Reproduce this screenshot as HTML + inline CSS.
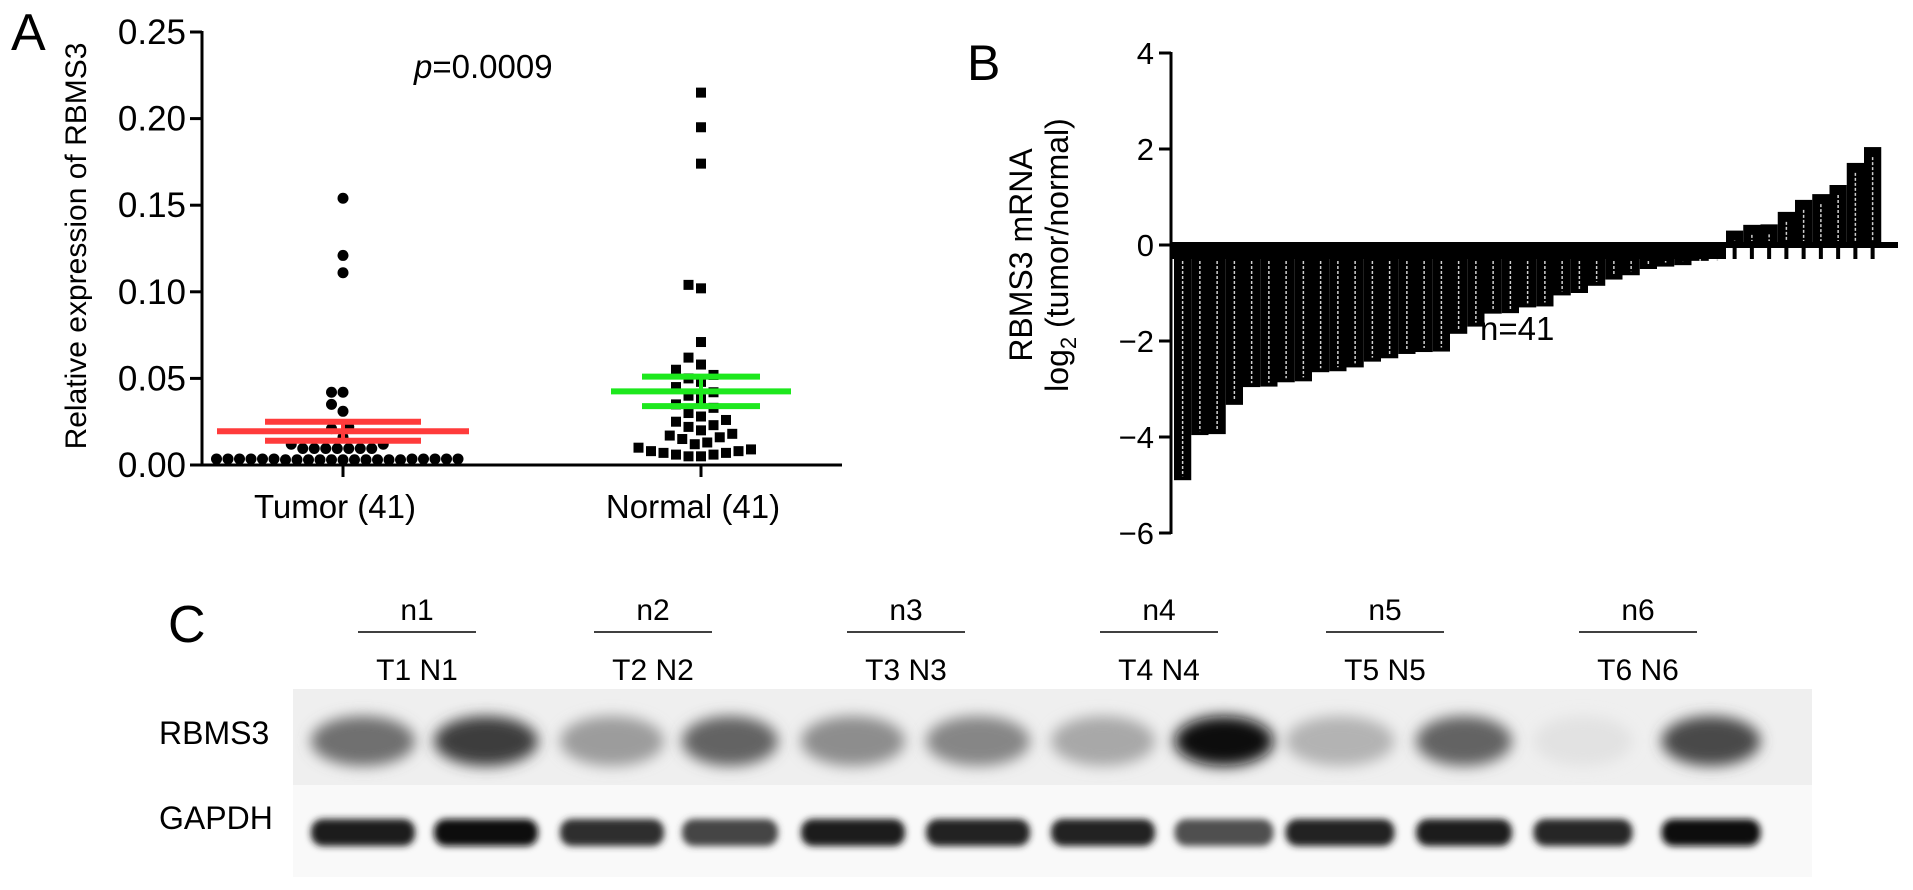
<!DOCTYPE html>
<html><head><meta charset="utf-8"><style>
html,body{margin:0;padding:0;background:#fff;}
svg{display:block;font-family:"Liberation Sans",Arial,sans-serif;}
</style></head><body>
<svg id="fig" width="1913" height="890" viewBox="0 0 1913 890" xmlns="http://www.w3.org/2000/svg">
<defs>
<filter id="blur6" x="-30%" y="-80%" width="160%" height="260%"><feGaussianBlur stdDeviation="7"/></filter>
<filter id="blur3" x="-30%" y="-80%" width="160%" height="260%"><feGaussianBlur stdDeviation="3.5"/></filter>
</defs>
<g id="panelA"></g>
<g id="panelB"></g>
<g id="panelC"></g>
</svg>
<script>
// ---------- Panel A data ----------
const groupsA = ["Tumor (41)", "Normal (41)"];
const tumorValues = [0.154,0.121,0.111,0.042,0.042,0.035,0.031,0.022,0.021,0.016,0.012,0.012,
 0.0095,0.0095,0.0095,0.0095,0.0095,0.0095,0.0095,
 0.003,0.0035,0.003,0.0035,0.003,0.0035,0.003,0.0035,0.003,0.0035,0.003,0.0035,0.003,0.0035,0.003,0.0035,0.003,0.0035,0.003,0.0035,0.003,0.0035];
const normalValues = [0.215,0.195,0.174,0.104,0.102,0.071,0.062,0.058,0.055,0.052,0.050,0.048,0.045,0.042,0.040,0.038,0.035,0.033,0.030,0.028,0.026,0.025,0.023,0.022,0.020,0.018,0.017,0.016,0.015,0.013,0.012,0.010,0.009,0.008,0.008,0.007,0.007,0.006,0.006,0.005,0.005];
const meanA = [0.0195, 0.0425];
const semTopA = [0.025, 0.051];
const semBotA = [0.014, 0.034];
const ticksA = [0, 0.05, 0.10, 0.15, 0.20, 0.25];
const tickLabelsA = ["0.00","0.05","0.10","0.15","0.20","0.25"];

// ---------- Panel B data ----------
const barValuesB = [-4.9,-3.96,-3.94,-3.33,-2.96,-2.95,-2.86,-2.84,-2.65,-2.63,-2.55,-2.43,-2.36,-2.27,-2.23,-2.22,
 -1.85,-1.70,-1.43,-1.42,-1.30,-1.28,-1.05,-1.00,-0.85,-0.72,-0.63,-0.50,-0.45,-0.42,-0.33,-0.27,
 0.30,0.42,0.43,0.69,0.94,1.06,1.25,1.71,2.04];
const ticksB = [4,2,0,-2,-4,-6];
const tickLabelsB = ["4","2","0","\u22122","\u22124","\u22126"];

// ---------- Panel C data ----------
const pairLabels = ["n1","n2","n3","n4","n5","n6"];
const laneLabels = ["T1 N1","T2 N2","T3 N3","T4 N4","T5 N5","T6 N6"];
const rbms3Intensity = [0.55,0.78,0.35,0.6,0.42,0.45,0.3,1.0,0.25,0.6,0.04,0.72];
const gapdhIntensity = [0.92,0.98,0.85,0.75,0.92,0.9,0.9,0.7,0.9,0.93,0.88,0.97];

const NS = "http://www.w3.org/2000/svg";
function mk(parent, tag, attrs, text){
  const e = document.createElementNS(NS, tag);
  for (const k in attrs) e.setAttribute(k, attrs[k]);
  if (text !== undefined) e.textContent = text;
  parent.appendChild(e);
  return e;
}

// ================= Panel A =================
(function(){
  const g = document.getElementById('panelA');
  const ax = 202, y0 = 465, y25 = 32;
  const yA = v => y0 - (v / 0.25) * (y0 - y25);
  const xCat = [343, 701];
  let t = mk(g,'text',{x:11,y:50,'font-size':52,fill:'#000'},'A');
  
  
  let l = mk(g,'line',{x1:ax,y1:yA(0.25)-1,x2:ax,y2:y0+1,stroke:'#000','stroke-width':3});
  
  
  l = mk(g,'line',{x1:ax-1,y1:y0,x2:842,y2:y0,stroke:'#000','stroke-width':3});
  
  
  ticksA.forEach((v,i)=>{
    const tk = mk(g,'line',{x1:ax-12,y1:yA(v),x2:ax,y2:yA(v),stroke:'#000','stroke-width':3});
    
    
    const tl = mk(g,'text',{x:ax-16,y:yA(v)+12,'font-size':35,'text-anchor':'end',fill:'#000'},tickLabelsA[i]);
    
    
  });
  t = mk(g,'text',{x:0,y:0,'font-size':30,'text-anchor':'middle',fill:'#000',transform:'translate(86,246) rotate(-90)'},'Relative expression of RBMS3');
  
  
  t = mk(g,'text',{x:414,y:78,'font-size':33,fill:'#000'});
  
  
  mk(t,'tspan',{'font-style':'italic'},'p');
  mk(t,'tspan',{},'=0.0009');
  groupsA.forEach((name,i)=>{
    const tk = mk(g,'line',{x1:xCat[i],y1:y0,x2:xCat[i],y2:y0+12,stroke:'#000','stroke-width':3});
    
    
    const tl = mk(g,'text',{x:xCat[i]-8,y:518,'font-size':33,'text-anchor':'middle',fill:'#000'},name);
    
    
  });
  function swarm(vals, cx, d){
    const order = vals.map((v,i)=>i).sort((a,b)=>vals[a]-vals[b]);
    const placed = []; const res = new Array(vals.length);
    order.forEach(i=>{
      const y = yA(vals[i]);
      for (let k=0;k<200;k++){
        const off = (k%2===0?1:-1)*Math.ceil(k/2)*d*0.5;
        const x = cx+off;
        if (placed.every(p=>Math.hypot(p[0]-x,p[1]-y)>=d)){ placed.push([x,y]); res[i]=[x,y]; break; }
      }
    });
    return res;
  }
  const tp = swarm(tumorValues, xCat[0], 11.5);
  tp.forEach(p=>{
    const c = mk(g,'circle',{cx:p[0],cy:p[1],r:5.5,fill:'#000'});
    
    
  });
  const np = swarm(normalValues, xCat[1], 12.5);
  np.forEach(p=>{
    const r = mk(g,'rect',{x:p[0]-5,y:p[1]-5,width:10,height:10,fill:'#000'});
    
    
  });
  const cols = ['#ff3b3b','#1de81d'];
  const halfMean = [126, 90], halfCap = [78, 59];
  [0,1].forEach(i=>{
    const cx = xCat[i];
    let e = mk(g,'line',{x1:cx-halfMean[i],y1:yA(meanA[i]),x2:cx+halfMean[i],y2:yA(meanA[i]),stroke:cols[i],'stroke-width':6});
    
    
    e = mk(g,'line',{x1:cx-halfCap[i],y1:yA(semTopA[i]),x2:cx+halfCap[i],y2:yA(semTopA[i]),stroke:cols[i],'stroke-width':6});
    
    
    e = mk(g,'line',{x1:cx-halfCap[i],y1:yA(semBotA[i]),x2:cx+halfCap[i],y2:yA(semBotA[i]),stroke:cols[i],'stroke-width':6});
    
    
    e = mk(g,'line',{x1:cx,y1:yA(semTopA[i]),x2:cx,y2:yA(semBotA[i]),stroke:cols[i],'stroke-width':4});
    
    
  });
})();

// ================= Panel B =================
(function(){
  const g = document.getElementById('panelB');
  const ax = 1171, y4 = 53, ym6 = 533;
  const yB = v => y4 + (4 - v) * (ym6 - y4) / 10;
  const x0 = 1174, step = 17.25;
  let t = mk(g,'text',{x:967,y:80,'font-size':50,fill:'#000'},'B');
  
  
  barValuesB.forEach((v,i)=>{
    const x = x0 + i*step;
    const top = Math.min(yB(0), yB(v)), h = Math.abs(yB(v)-yB(0));
    const r = mk(g,'rect',{x:x,y:top,width:step,height:Math.max(h,1),fill:'#000'});
    
    
    const s = mk(g,'line',{x1:x+step/2,y1:v<0?yB(0)+16:yB(v)+10,x2:x+step/2,y2:v<0?yB(v)-4:yB(0)-4,stroke:'#cfcfcf','stroke-width':1.5,'stroke-dasharray':'3 2'});
    
    
    if (v>0){
      const st = mk(g,'rect',{x:x+step/2-2,y:yB(0),width:4,height:14,fill:'#000'});
      
      
    }
  });
  let l = mk(g,'rect',{x:ax,y:yB(0)-3,width:1898-ax,height:6,fill:'#000'});
  
  
  l = mk(g,'rect',{x:ax,y:yB(0),width:32*step+3,height:14,fill:'#000'});
  
  
  l = mk(g,'line',{x1:ax,y1:y4-1,x2:ax,y2:ym6+1,stroke:'#000','stroke-width':3});
  
  
  ticksB.forEach((v,i)=>{
    const tk = mk(g,'line',{x1:ax-12,y1:yB(v),x2:ax,y2:yB(v),stroke:'#000','stroke-width':3});
    
    
    const tl = mk(g,'text',{x:ax-17,y:yB(v)+11,'font-size':31,'text-anchor':'end',fill:'#000'},tickLabelsB[i]);
    
    
  });
  t = mk(g,'text',{x:0,y:0,'font-size':32,'text-anchor':'middle',fill:'#000',transform:'translate(1032,255) rotate(-90)'},'RBMS3 mRNA');
  
  
  t = mk(g,'text',{x:0,y:0,'font-size':32,'text-anchor':'middle',fill:'#000',transform:'translate(1068,255) rotate(-90)'});
  
  
  mk(t,'tspan',{},'log');
  mk(t,'tspan',{'font-size':22,dy:8},'2');
  mk(t,'tspan',{dy:-8},' (tumor/normal)');
  t = mk(g,'text',{x:1480,y:340,'font-size':33,fill:'#000'},'n=41');
  
  
})();

// ================= Panel C =================
(function(){
  const g = document.getElementById('panelC');
  let t = mk(g,'text',{x:168,y:642,'font-size':52,fill:'#000'},'C');
  
  
  const pairCenters = [417,653,906,1159,1385,1638];
  pairLabels.forEach((n,i)=>{
    const cx = pairCenters[i];
    let e = mk(g,'text',{x:cx,y:620,'font-size':30,'text-anchor':'middle',fill:'#000'},n);
    
    
    e = mk(g,'line',{x1:cx-59,y1:632,x2:cx+59,y2:632,stroke:'#000','stroke-width':1.5});
    
    
    e = mk(g,'text',{x:cx,y:680,'font-size':30,'text-anchor':'middle',fill:'#000'},laneLabels[i]);
    
    
  });
  let r = mk(g,'rect',{x:293,y:689,width:1519,height:96,fill:'#efefef'});
  
  
  r = mk(g,'rect',{x:293,y:785,width:1519,height:92,fill:'#f9f9f9'});
  
  
  const laneCenters = [363,486,612,730,853,978,1103,1224,1340,1464,1583,1711];
  const laneW = [104,104,104,96,104,104,104,99,109,96,99,99];
  laneCenters.forEach((cx,i)=>{
    const a = rbms3Intensity[i];
    const gray = Math.round(235 - a*225);
    const b = mk(g,'ellipse',{cx:cx,cy:741,rx:laneW[i]/2,ry:25,fill:'rgb('+gray+','+gray+','+gray+')',filter:'url(#blur6)'});
    
    
    const a2 = gapdhIntensity[i];
    const g2 = Math.round(240 - a2*230);
    const c = mk(g,'rect',{x:cx-laneW[i]/2,y:819,width:laneW[i],height:27,rx:12,fill:'rgb('+g2+','+g2+','+g2+')',filter:'url(#blur3)'});
    
    
  });
  t = mk(g,'text',{x:159,y:744,'font-size':32,fill:'#000'},'RBMS3');
  
  
  t = mk(g,'text',{x:159,y:829,'font-size':32,fill:'#000'},'GAPDH');
  
  
})();
</script>
</body></html>
